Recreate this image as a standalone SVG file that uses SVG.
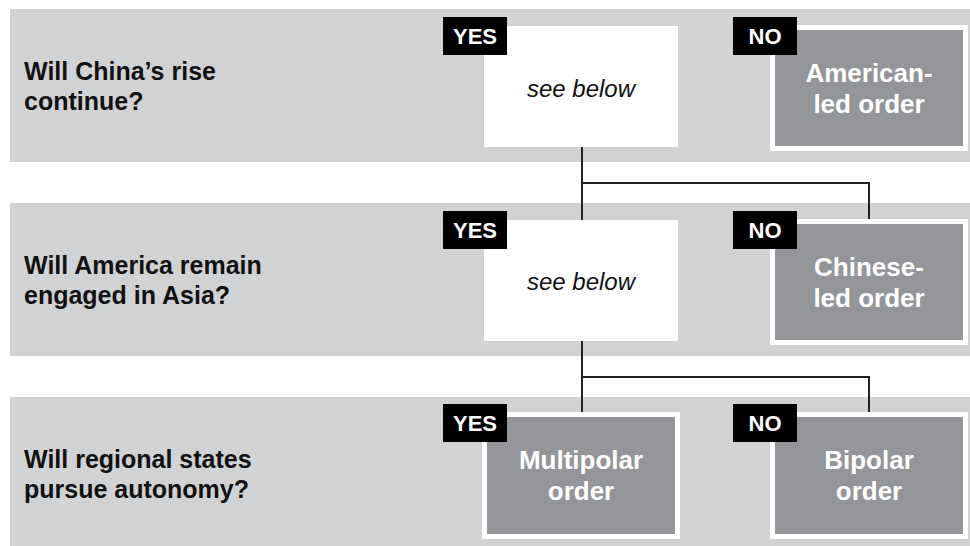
<svg xmlns="http://www.w3.org/2000/svg" width="970" height="546" viewBox="0 0 970 546">
<style>
.band{fill:#d1d2d4}
.q{font-family:"Liberation Sans",Arial,sans-serif;font-weight:bold;font-size:25px;fill:#111}
.tag{fill:#000}
.tagt{font-family:"Liberation Sans",Arial,sans-serif;font-weight:bold;font-size:22px;fill:#fff;text-anchor:middle}
.wbox{fill:#fff}
.see{font-family:"Liberation Sans",Arial,sans-serif;font-style:italic;font-size:24px;fill:#111;text-anchor:middle}
.gout{fill:#fff}
.gin{fill:#939598}
.res{font-family:"Liberation Sans",Arial,sans-serif;font-weight:bold;font-size:26px;fill:#fff;text-anchor:middle}
.conn{fill:none;stroke:#222;stroke-width:2}
</style>
<rect width="970" height="546" fill="#fff"/>
<g id="bands">
<rect class="band" x="10" y="9" width="960" height="153"/>
<rect class="band" x="10" y="203" width="960" height="153"/>
<rect class="band" x="10" y="397" width="960" height="149"/>
</g>
<g id="connectors">
<path class="conn" d="M582 147 V220 M582 183 H869 V220"/>
<path class="conn" d="M582 341 V413 M582 377 H869 V413"/>
</g>
<g id="q1"><text class="q" x="24" y="80">Will China’s rise</text><text class="q" x="24" y="110">continue?</text></g>
<g id="q2"><text class="q" x="24" y="274">Will America remain</text><text class="q" x="24" y="304">engaged in Asia?</text></g>
<g id="q3"><text class="q" x="24" y="468">Will regional states</text><text class="q" x="24" y="498">pursue autonomy?</text></g>
<g id="yes1"><rect class="wbox" x="484" y="26" width="194" height="121"/><text class="see" x="581" y="97">see below</text><rect class="tag" x="443" y="17" width="64" height="38"/><text class="tagt" x="475" y="44">YES</text></g>
<g id="no1"><rect class="gout" x="770" y="25" width="198" height="126"/><rect class="gin" x="775" y="30" width="188" height="116"/><text class="res" x="869" y="82">American-</text><text class="res" x="869" y="113">led order</text><rect class="tag" x="733" y="17" width="64" height="38"/><text class="tagt" x="765" y="44">NO</text></g>
<g id="yes2"><rect class="wbox" x="484" y="220" width="194" height="121"/><text class="see" x="581" y="290">see below</text><rect class="tag" x="443" y="211" width="64" height="38"/><text class="tagt" x="475" y="238">YES</text></g>
<g id="no2"><rect class="gout" x="770" y="219" width="198" height="126"/><rect class="gin" x="775" y="224" width="188" height="116"/><text class="res" x="869" y="276">Chinese-</text><text class="res" x="869" y="307">led order</text><rect class="tag" x="733" y="211" width="64" height="38"/><text class="tagt" x="765" y="238">NO</text></g>
<g id="yes3"><rect class="gout" x="482" y="412" width="198" height="127"/><rect class="gin" x="487" y="417" width="188" height="117"/><text class="res" x="581" y="469">Multipolar</text><text class="res" x="581" y="500">order</text><rect class="tag" x="443" y="404" width="64" height="38"/><text class="tagt" x="475" y="431">YES</text></g>
<g id="no3"><rect class="gout" x="770" y="412" width="198" height="127"/><rect class="gin" x="775" y="417" width="188" height="117"/><text class="res" x="869" y="469">Bipolar</text><text class="res" x="869" y="500">order</text><rect class="tag" x="733" y="404" width="64" height="38"/><text class="tagt" x="765" y="431">NO</text></g>
</svg>
